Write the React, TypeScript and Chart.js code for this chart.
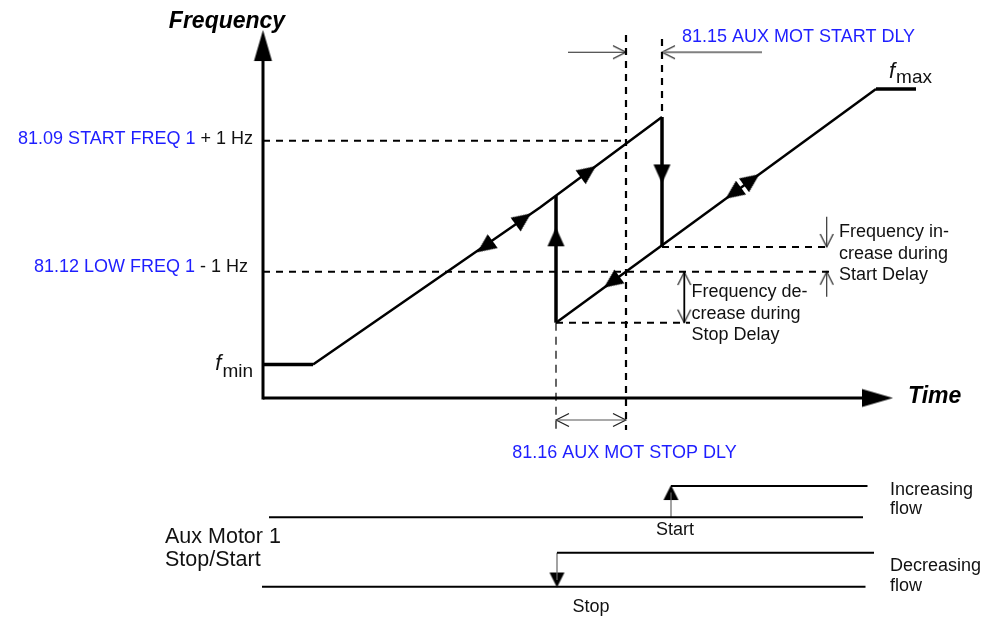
import React, { useEffect, useRef } from 'react';
import { Chart, registerables } from 'chart.js';

Chart.register(...registerables);

const FONT = "'Liberation Sans', Arial, Helvetica, sans-serif";
const BLUE = '#1e1eff';

// ---------- scale extents: time units, frequency (Hz-like units), signal level ----------
const timeRange = [-52.6, 147.2];
const freqRange = [-35.32, 64.19];
const signalRange = [-0.891, 17.256];

// ---------- frequency curve ----------
const fminTime = [0, 10];
const fminFreq = [5.4, 5.4];
const rampUpTime = [10, 55.4, 79.8];
const rampUpFreq = [5.4, 30.73, 45.32];
const rampDownTime = [58.6, 122.6];
const rampDownFreq = [12.15, 49.84];
const fmaxTime = [122.6, 130.6];
const fmaxFreq = [49.84, 49.84];
// vertical steps: aux motor stop (freq jumps up) and start (freq jumps down)
const stepTime = [58.6, 79.8];
const stepFromFreq = [12.15, 45.32];
const stepToFreq = [32.58, 24.35];

// ---------- reference levels (dashed) ----------
const levelFreq = [41.5, 20.35]; // START FREQ 1 + 1 Hz, LOW FREQ 1 - 1 Hz
const levelEndTime = [72.6, 113.4];
const delayLevelFreq = [24.35, 12.15]; // after start delay, after stop delay
const delayLevelStart = [79.8, 58.6];
const delayLevelEnd = [113.4, 85.4];
// dashed verticals
const stopDelayEndTime = 72.6;
const stopDelayEndSpan = [58.55, -5.16];
const startEventSpan = [57.9, 45.32];
const stopEventSpan = [12.15, -5.16];

// ---------- delay dimension arrows ----------
const startDlyArrowFreq = 55.76;
const startDlyLeftTime = [61, 72.6];
const startDlyRightTime = [79.8, 99.8];
const stopDlyArrowFreq = -3.55;
const stopDlyTime = [58.6, 72.6];
const incNoteTime = 112.74;
const incNoteDownFreq = [29.24, 24.35];
const incNoteUpFreq = [16.34, 20.37];
const decNoteTime = 84.26;
const decNoteFreq = [20.32, 12.15];

// ---------- direction markers on the curve ----------
const flowArrowTime = [44.4, 52.06, 65.06, 69.74, 94.06, 97.74, 58.6, 79.8];
const flowArrowFreq = [24.4, 28.87, 36.5, 18.7, 33.03, 35.2, 26.0, 36.13];
const flowArrowDir = [234, 54, 54, 234, 234, 54, 0, 180];

// ---------- axes ----------
const freqAxisSpan = [-0.24, 56.85];
const timeAxisSpan = [0, 122.9];

// ---------- Aux motor stop/start signals ----------
const signalLevel = [0, 1.0, 2.04, 2.96];
const incBaseTime = [1.2, 120];
const incHighTime = [81.6, 120.9];
const decHighTime = [58.8, 122.2];
const decBaseTime = [-0.2, 120.5];
const signalArrowTime = [81.6, 58.8];
const signalArrowTip = [2.77, 0.197];

// ---------- texts ----------
const axisTitles = ['Frequency', 'Time'];
const levelParams = ['81.09 START FREQ 1', '81.12 LOW FREQ 1'];
const levelOffsets = [' + 1 Hz', ' - 1 Hz'];
const delayParams = ['81.15 AUX MOT START DLY', '81.16 AUX MOT STOP DLY'];
const startDelayNote = ['Frequency in-', 'crease during', 'Start Delay'];
const stopDelayNote = ['Frequency de-', 'crease during', 'Stop Delay'];
const motorLabel = ['Aux Motor 1', 'Stop/Start'];
const increasingFlow = ['Increasing', 'flow'];
const decreasingFlow = ['Decreasing', 'flow'];
const eventLabels = ['Start', 'Stop'];

function pts(xs: number[], ys: number[]) {
  return xs.map((x, i) => ({ x, y: ys[i] }));
}

function line(xs: number[], ys: number[], w: number, color = '#000', dash: number[] = [], axis = 'y') {
  return {
    data: pts(xs, ys),
    showLine: true,
    pointRadius: 0,
    pointHoverRadius: 0,
    borderColor: color,
    backgroundColor: 'transparent',
    borderWidth: w,
    borderDash: dash,
    yAxisID: axis,
    fill: false,
    tension: 0,
  };
}

function marks(xs: number[], ys: number[], rot: number[], img: HTMLCanvasElement, axis = 'y') {
  return {
    data: pts(xs, ys),
    showLine: false,
    pointStyle: img,
    pointRadius: 5,
    pointHoverRadius: 5,
    pointRotation: (c: any) => rot[c.dataIndex] ?? 0,
    yAxisID: axis,
  };
}

function makeTriangle(w: number, h: number, color: string) {
  const size = Math.ceil(Math.max(w, h)) + 4;
  const cv = document.createElement('canvas');
  cv.width = size;
  cv.height = size;
  const c = cv.getContext('2d')!;
  const m = size / 2;
  c.fillStyle = color;
  c.beginPath();
  c.moveTo(m, m - h / 2);
  c.lineTo(m + w / 2, m + h / 2);
  c.lineTo(m - w / 2, m + h / 2);
  c.closePath();
  c.fill();
  return cv;
}

function makeChevron(w: number, len: number, color: string, lw: number) {
  const size = Math.ceil(len) * 2 + 4;
  const cv = document.createElement('canvas');
  cv.width = size;
  cv.height = size;
  const c = cv.getContext('2d')!;
  const m = size / 2;
  c.strokeStyle = color;
  c.lineWidth = lw;
  c.beginPath();
  c.moveTo(m - w / 2, m + len);
  c.lineTo(m, m);
  c.lineTo(m + w / 2, m + len);
  c.stroke();
  return cv;
}

const textPlugin = {
  id: 'diagramText',
  afterDatasetsDraw(chart: any) {
    const { ctx } = chart;
    const X = (t: number) => chart.scales.x.getPixelForValue(t);
    const Y = (f: number) => chart.scales.y.getPixelForValue(f);
    const S = (v: number) => chart.scales.s.getPixelForValue(v);
    ctx.save();
    ctx.textBaseline = 'alphabetic';
    const put = (s: string, x: number, y: number, font: string, color = '#111', align: CanvasTextAlign = 'left') => {
      ctx.font = font;
      ctx.fillStyle = color;
      ctx.textAlign = align;
      ctx.fillText(s, x, y);
    };
    const reg = `18px ${FONT}`;
    const title = `italic bold 23px ${FONT}`;

    // axis titles
    put(axisTitles[0], X(-7.2), Y(59.68), title, '#000', 'center');
    put(axisTitles[1], X(129), Y(-0.76), title, '#000', 'left');

    // level labels (blue parameter + black offset), right aligned
    const levelAnchor = [
      [-2, 40.97],
      [-3, 20.37],
    ];
    levelParams.forEach((p, i) => {
      ctx.font = reg;
      const w2 = ctx.measureText(levelOffsets[i]).width;
      const right = X(levelAnchor[i][0]);
      const base = Y(levelAnchor[i][1]);
      put(levelOffsets[i], right, base, reg, '#111', 'right');
      put(p, right - w2, base, reg, BLUE, 'right');
    });

    // f_min / f_max
    const fItal = `italic 22px ${FONT}`;
    const sub = `19px ${FONT}`;
    ctx.font = sub;
    const wMin = ctx.measureText('min').width;
    const rMin = X(-2);
    const bMin = Y(4.52);
    put('min', rMin, bMin + 7, sub, '#111', 'right');
    put('f', rMin - wMin - 1, bMin, fItal, '#111', 'right');
    const lMax = X(125.2);
    const bMax = Y(51.61);
    put('f', lMax, bMax, fItal, '#111', 'left');
    ctx.font = fItal;
    const wf = ctx.measureText('f').width;
    put('max', lMax + wf + 1, bMax + 5, sub, '#111', 'left');

    // delay parameter labels
    put(delayParams[0], X(83.8), Y(57.47), reg, BLUE, 'left');
    put(delayParams[1], X(72.3), Y(-9.73), reg, BLUE, 'center');

    // notes
    const lh = 21.3;
    startDelayNote.forEach((s, i) => put(s, X(115.2), Y(25.92) + i * lh, reg, '#111'));
    stopDelayNote.forEach((s, i) => put(s, X(85.7), Y(16.24) + i * lh, reg, '#111'));

    // lower part
    const big = `21.5px ${FONT}`;
    put(motorLabel[0], X(-19.6), S(1.294), big, '#111');
    put(motorLabel[1], X(-19.6), S(0.609), big, '#111');
    put(increasingFlow[0], X(125.4), S(2.697), reg, '#111');
    put(increasingFlow[1], X(125.4), S(2.138), reg, '#111');
    put(decreasingFlow[0], X(125.4), S(0.47), reg, '#111');
    put(decreasingFlow[1], X(125.4), S(-0.118), reg, '#111');
    put(eventLabels[0], X(82.4), S(1.52), reg, '#111', 'center');
    put(eventLabels[1], X(65.6), S(-0.753), reg, '#111', 'center');
    ctx.restore();
  },
};

export default function App() {
  const ref = useRef<HTMLCanvasElement | null>(null);

  useEffect(() => {
    if (!ref.current) return;
    const tri = makeTriangle(17, 19, '#000');
    const axisHead = makeTriangle(18, 31, '#000');
    const sigHead = makeTriangle(15, 15, '#000');
    const chev = makeChevron(13, 13, '#222', 1.2);

    const dash = [7, 6];
    const datasets: any[] = [
      // axes
      line([0, 0], freqAxisSpan, 3),
      line(timeAxisSpan, [0, 0], 3),
      marks([0, 122.9], [56.85, 0], [0, 90], axisHead),
      // dashed reference lines
      line([0, levelEndTime[0]], [levelFreq[0], levelFreq[0]], 2, '#000', dash),
      line([0, levelEndTime[1]], [levelFreq[1], levelFreq[1]], 2, '#000', dash),
      line([delayLevelStart[0], delayLevelEnd[0]], [delayLevelFreq[0], delayLevelFreq[0]], 2, '#000', dash),
      line([delayLevelStart[1], delayLevelEnd[1]], [delayLevelFreq[1], delayLevelFreq[1]], 2, '#000', dash),
      line([stopDelayEndTime, stopDelayEndTime], stopDelayEndSpan, 2.2, '#000', dash),
      line([stepTime[1], stepTime[1]], startEventSpan, 2.2, '#000', dash),
      line([stepTime[0], stepTime[0]], stopEventSpan, 1.2, '#000', [8, 6]),
      // frequency curve
      line(fminTime, fminFreq, 3.5),
      line(rampUpTime, rampUpFreq, 2.5),
      line(rampDownTime, rampDownFreq, 2.5),
      line(fmaxTime, fmaxFreq, 3.5),
      line([stepTime[0], stepTime[0]], [stepFromFreq[0], stepToFreq[0]], 3.5),
      line([stepTime[1], stepTime[1]], [stepFromFreq[1], stepToFreq[1]], 3.5),
      marks(flowArrowTime, flowArrowFreq, flowArrowDir, tri),
      // dimension arrows
      line(startDlyLeftTime, [startDlyArrowFreq, startDlyArrowFreq], 1.2, '#222'),
      line(startDlyRightTime, [startDlyArrowFreq, startDlyArrowFreq], 1.8, '#808080'),
      line(stopDlyTime, [stopDlyArrowFreq, stopDlyArrowFreq], 1.2, '#555'),
      line([incNoteTime, incNoteTime], incNoteDownFreq, 1.2, '#333'),
      line([incNoteTime, incNoteTime], incNoteUpFreq, 1.2, '#333'),
      line([decNoteTime, decNoteTime], decNoteFreq, 1.8, '#000'),
      marks(
        [startDlyLeftTime[1], startDlyRightTime[0], stopDlyTime[0], stopDlyTime[1], incNoteTime, incNoteTime, decNoteTime, decNoteTime],
        [startDlyArrowFreq, startDlyArrowFreq, stopDlyArrowFreq, stopDlyArrowFreq, incNoteDownFreq[1], incNoteUpFreq[1], decNoteFreq[0], decNoteFreq[1]],
        [90, 270, 270, 90, 180, 0, 0, 180],
        chev
      ),
      // lower signals
      line(incBaseTime, [signalLevel[2], signalLevel[2]], 2, '#000', [], 's'),
      line(incHighTime, [signalLevel[3], signalLevel[3]], 2, '#000', [], 's'),
      line(decHighTime, [signalLevel[1], signalLevel[1]], 2, '#000', [], 's'),
      line(decBaseTime, [signalLevel[0], signalLevel[0]], 2, '#000', [], 's'),
      line([signalArrowTime[0], signalArrowTime[0]], [signalLevel[2], signalArrowTip[0]], 1.2, '#666', [], 's'),
      line([signalArrowTime[1], signalArrowTime[1]], [signalLevel[1], signalArrowTip[1]], 1.2, '#666', [], 's'),
      marks(signalArrowTime, signalArrowTip, [0, 180], sigHead, 's'),
    ];

    const chart = new Chart(ref.current, {
      type: 'scatter',
      data: { datasets },
      options: {
        animation: false,
        responsive: false,
        devicePixelRatio: 1,
        events: [],
        layout: { padding: 0, autoPadding: false },
        plugins: { legend: { display: false }, tooltip: { enabled: false } },
        scales: {
          x: { type: 'linear', display: false, min: timeRange[0], max: timeRange[1] },
          y: { type: 'linear', display: false, min: freqRange[0], max: freqRange[1] },
          s: { type: 'linear', display: false, min: signalRange[0], max: signalRange[1] },
        },
      } as any,
      plugins: [textPlugin],
    });
    return () => chart.destroy();
  }, []);

  return (
    <div style={{ position: 'absolute', left: 0, top: 0, width: 999, height: 617, background: '#fff' }}>
      <canvas ref={ref} width={999} height={617} />
    </div>
  );
}
